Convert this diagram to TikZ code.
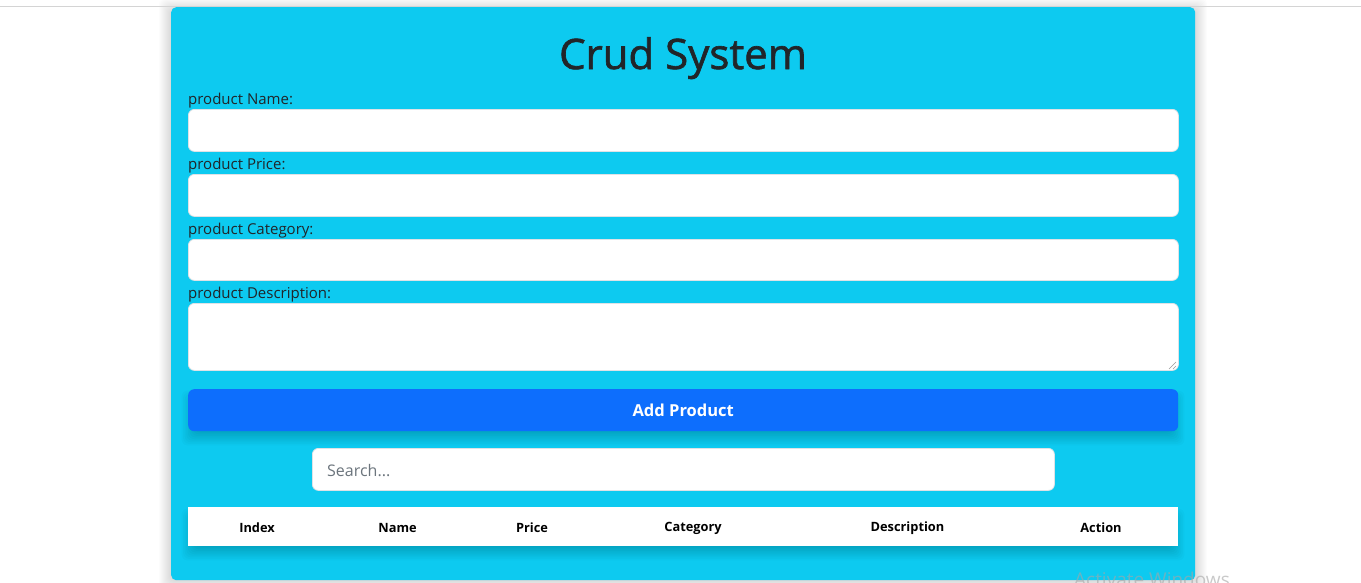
\documentclass[tikz,border=0pt]{standalone}
\usepackage{fontspec}
\setmainfont{Open Sans}
\newfontfamily\titlefont[FakeBold=1.5]{Open Sans}
\definecolor{cardc}{HTML}{0DCAF0}
\definecolor{titlec}{HTML}{212529}
\definecolor{btnc}{HTML}{0D6EFD}
\definecolor{borderc}{HTML}{DEE2E6}
\definecolor{phc}{HTML}{6C757D}
\definecolor{linec}{HTML}{D4D4D4}
\tikzset{
  card/.style={fill=cardc, rounded corners=5pt, anchor=north west, inner sep=0pt},
  field/.style={fill=white, draw=borderc, line width=0.8pt, rounded corners=6pt, anchor=north west,
    inner sep=0pt, minimum width=990pt},
  lbl/.style={anchor=base west, inner sep=0pt, text=titlec, font=\fontsize{15}{18}\selectfont},
  btn/.style={fill=btnc, rounded corners=6pt, anchor=north west, inner sep=0pt,
    minimum width=990pt, minimum height=42pt, text=white, font=\bfseries\fontsize{16.5}{20}\selectfont},
  tabhead/.style={fill=white, anchor=north west, inner sep=0pt, minimum width=990pt, minimum height=39pt},
  colh/.style={anchor=center, inner sep=0pt, text=black, font=\bfseries\fontsize{12.8}{15}\selectfont},
  handle/.style={draw=gray!80, line width=0.6pt},
  shade/.style={fill=black, opacity=#1},
}
\begin{document}
\begin{tikzpicture}[x=1pt,y=-1pt]
\useasboundingbox (0,0) rectangle (1361,582);
\fill[white] (0,0) rectangle (1361,582);
% card shadow
\foreach \i in {1,...,12}{
  \fill[shade=0.012, rounded corners=6pt] (171-\i, 10-\i) rectangle (1195+\i, 580+\i);
}
\draw[linec, line width=1pt] (0,6) -- (1361,6);
% card
\node[card, minimum width=1024pt, minimum height=573pt] (card) at (171,7) {};
% title
\node[anchor=base, inner sep=0pt, text=titlec, font=\titlefont\fontsize{42}{50}\selectfont] (title) at (683,69) {Crud System};
% fields
\node[lbl] (l1) at (188,104) {product Name:};
\node[field, minimum height=42pt] (f1) at (188,109) {};
\node[lbl] (l2) at (188,169) {product Price:};
\node[field, minimum height=42pt] (f2) at (188,174) {};
\node[lbl] (l3) at (188,234) {product Category:};
\node[field, minimum height=41pt] (f3) at (188,239) {};
\node[lbl] (l4) at (188,298) {product Description:};
\node[field, minimum height=67pt] (f4) at (188,303) {};
\coordinate (h1a) at (1169,369);
\coordinate (h1b) at (1176,362);
\coordinate (h2a) at (1173,369);
\coordinate (h2b) at (1176,366);
\draw[handle] (h1a) -- (h1b);
\draw[handle] (h2a) -- (h2b);
% button shadow + button
\foreach \i in {0,...,9}{
  \fill[shade=0.02, rounded corners=6pt] (196-1.6*\i, 405-1.6*\i) rectangle (1170+1.6*\i, 431+1.6*\i);
}
\node[btn] (add) at (188,389) {Add Product};
% search
\node[fill=white, draw=borderc, line width=0.8pt, rounded corners=6pt, anchor=north west, inner sep=0pt,
  minimum width=742pt, minimum height=42pt] (search) at (312,448) {};
\node[anchor=base west, inner sep=0pt, text=phc, font=\fontsize{16}{19}\selectfont] (ph) at (327,476) {Search...};
% table header shadow + header
\foreach \i in {0,...,9}{
  \fill[shade=0.02, rounded corners=6pt] (196-1.6*\i, 523-1.6*\i) rectangle (1170+1.6*\i, 546+1.6*\i);
}
\node[tabhead] (thead) at (188,507) {};
\node[colh] (c1) at (257,528) {Index};
\node[colh] (c2) at (397.5,528) {Name};
\node[colh] (c3) at (532,528) {Price};
\node[colh] (c4) at (693,528) {Category};
\node[colh] (c5) at (907.5,528) {Description};
\node[colh] (c6) at (1101,528) {Action};
% watermark
\node[anchor=base west, inner sep=0pt, text=gray!70, text opacity=0.6, font=\fontsize{19}{22}\selectfont] (wm) at (1074,586) {Activate Windows};
\end{tikzpicture}
\end{document}
